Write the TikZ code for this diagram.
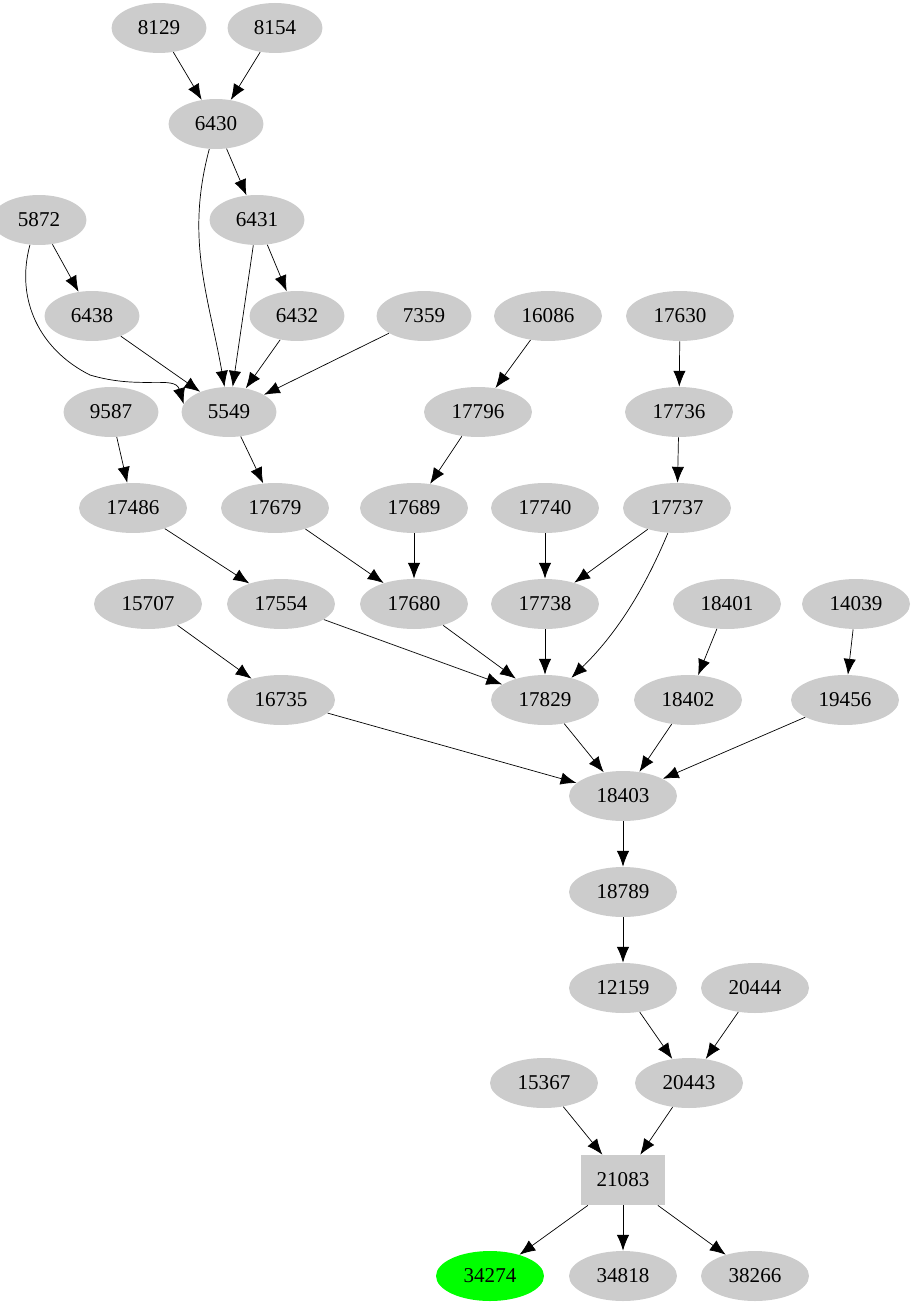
\documentclass[tikz,border=0pt]{standalone}
\usepackage{fontspec}
\setmainfont{Liberation Serif}
\usetikzlibrary{shapes.geometric,arrows.meta}
\tikzset{
  nd/.style={ellipse,fill=lightgray!80,minimum width=2.16cm,minimum height=1cm,inner sep=0pt,font=\fontsize{12}{14}\selectfont},
  nds/.style={nd,minimum width=1.9cm},
  edge/.style={-{Latex[length=9pt,width=7pt]},thin}
}
\begin{document}
\begin{tikzpicture}[x=0.02cm,y=-0.02cm]
\useasboundingbox (0,0) rectangle (918,1307);
% top
\node[nds] (n8129) at (159,28) {8129};
\node[nds] (n8154) at (275,28) {8154};
\node[nds] (n6430) at (216,124) {6430};
\node[nds] (n6431) at (257,220) {6431};
\node[nds] (n5872) at (39,220) {5872};
\node[nds] (n6438) at (92,316) {6438};
\node[nds] (n6432) at (297,316) {6432};
\node[nds] (n7359) at (424,316) {7359};
\node[nd] (n16086) at (548,316) {16086};
\node[nd] (n17630) at (680,316) {17630};
\node[nds] (n9587) at (111,412) {9587};
\node[nds] (n5549) at (229,412) {5549};
\node[nd] (n17796) at (478,412) {17796};
\node[nd] (n17736) at (679,412) {17736};
% middle
\node[nd] (n17486) at (133,508) {17486};
\node[nd] (n17679) at (275,508) {17679};
\node[nd] (n17689) at (414,508) {17689};
\node[nd] (n17740) at (545,508) {17740};
\node[nd] (n17737) at (677,508) {17737};
\node[nd] (n15707) at (148,604) {15707};
\node[nd] (n17554) at (281,604) {17554};
\node[nd] (n17680) at (414,604) {17680};
\node[nd] (n17738) at (545,604) {17738};
\node[nd] (n18401) at (727,604) {18401};
\node[nd] (n14039) at (856,604) {14039};
\node[nd] (n16735) at (281,700) {16735};
\node[nd] (n17829) at (545,700) {17829};
\node[nd] (n18402) at (688,700) {18402};
\node[nd] (n19456) at (845,700) {19456};
% bottom
\node[nd] (n18403) at (623,796) {18403};
\node[nd] (n18789) at (623,892) {18789};
\node[nd] (n12159) at (623,988) {12159};
\node[nd] (n20444) at (755,988) {20444};
\node[nd] (n15367) at (544,1083) {15367};
\node[nd] (n20443) at (689,1083) {20443};
\node[nd,rectangle,minimum width=1.68cm] (n21083) at (623,1180) {21083};
\node[nd,fill=green] (n34274) at (490,1276) {34274};
\node[nd] (n34818) at (623,1276) {34818};
\node[nd] (n38266) at (755,1276) {38266};
% edges
\draw[edge] (n8129) -- (n6430);
\draw[edge] (n8154) -- (n6430);
\draw[edge] (n6430) -- (n6431);
\draw[edge] (n6430) to[out=-105,in=100] (n5549);
\draw[edge] (n5872) -- (n6438);
\draw[edge] (n5872.-110) .. controls (15,300) and (40,350) .. (90,375) .. controls (140,390) and (175,375) .. (n5549.170);
\draw[edge] (n6431) -- (n6432);
\draw[edge] (n6431) -- (n5549);
\draw[edge] (n6438) -- (n5549);
\draw[edge] (n6432) -- (n5549);
\draw[edge] (n7359) -- (n5549);
\draw[edge] (n16086) -- (n17796);
\draw[edge] (n17630) -- (n17736);
\draw[edge] (n9587) -- (n17486);
\draw[edge] (n5549) -- (n17679);
\draw[edge] (n17796) -- (n17689);
\draw[edge] (n17736) -- (n17737);
\draw[edge] (n17486) -- (n17554);
\draw[edge] (n17679) -- (n17680);
\draw[edge] (n17689) -- (n17680);
\draw[edge] (n17740) -- (n17738);
\draw[edge] (n17737) -- (n17738);
\draw[edge] (n17737.-110) .. controls (640,600) and (610,640) .. (n17829.40);
\draw[edge] (n15707) -- (n16735);
\draw[edge] (n17554) -- (n17829);
\draw[edge] (n17680) -- (n17829);
\draw[edge] (n17738) -- (n17829);
\draw[edge] (n18401) -- (n18402);
\draw[edge] (n14039) -- (n19456);
\draw[edge] (n16735) -- (n18403);
\draw[edge] (n17829) -- (n18403);
\draw[edge] (n18402) -- (n18403);
\draw[edge] (n19456) -- (n18403);
\draw[edge] (n18403) -- (n18789);
\draw[edge] (n18789) -- (n12159);
\draw[edge] (n12159) -- (n20443);
\draw[edge] (n20444) -- (n20443);
\draw[edge] (n15367) -- (n21083);
\draw[edge] (n20443) -- (n21083);
\draw[edge] (n21083) -- (n34274);
\draw[edge] (n21083) -- (n34818);
\draw[edge] (n21083) -- (n38266);
\end{tikzpicture}
\end{document}
